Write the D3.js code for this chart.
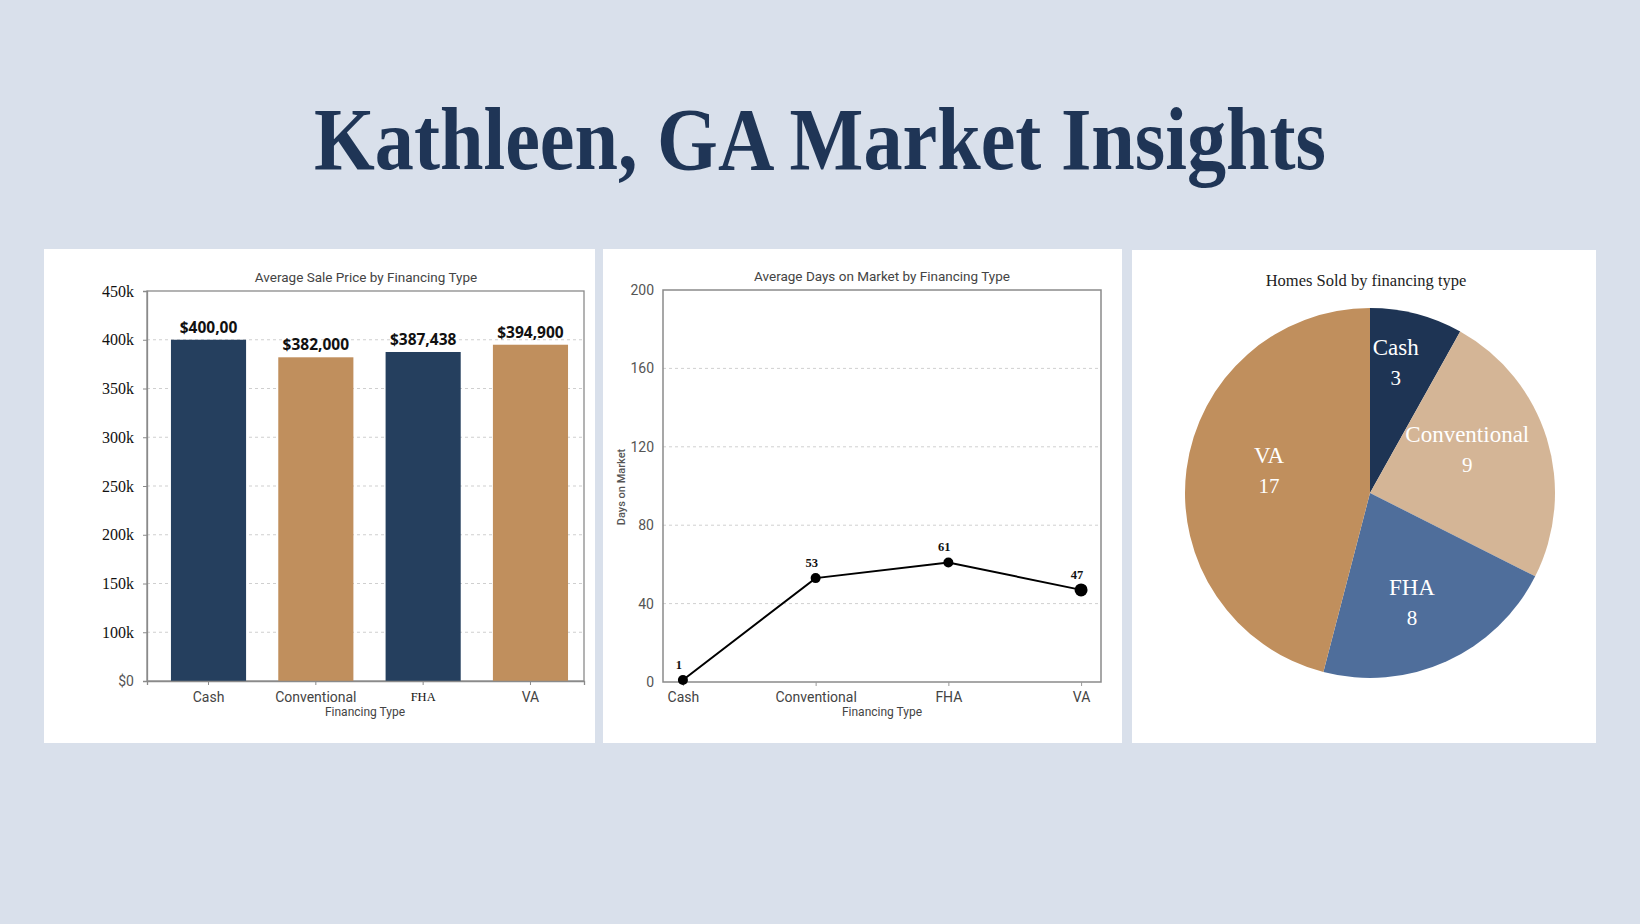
<!DOCTYPE html>
<html>
<head>
<meta charset="utf-8">
<script src="https://cdn.jsdelivr.net/npm/d3@7"></script>
<style>
  body { margin: 0; background: #d9e0eb; }
  svg { display: block; }
</style>
</head>
<body>
<script>
// chart data
var financingTypes = ["Cash", "Conventional", "FHA", "VA"];
var avgPrice = [400000, 382000, 387438, 394900];
var priceLabels = ["$400,00", "$382,000", "$387,438", "$394,900"];
var priceTicks = [50000, 100000, 150000, 200000, 250000, 300000, 350000, 400000, 450000];
var priceTickLabels = ["$0", "100k", "150k", "200k", "250k", "300k", "350k", "400k", "450k"];
var avgDays = [1, 53, 61, 47];
var dayTicks = [0, 40, 80, 120, 160, 200];
var homesSold = [3, 9, 8, 17];

var width = 1640,
    height = 924;

var svg = d3.select("body")
            .append("svg")
            .attr("width", width)
            .attr("height", height);

svg.append("rect")
    .attr("width", width)
    .attr("height", height)
    .attr("fill", "#d9e0eb");

svg.append("text")
    .attr("x", width / 2)
    .attr("y", 169)
    .attr("text-anchor", "middle")
    .attr("textLength", 1012)
    .attr("lengthAdjust", "spacingAndGlyphs")
    .style("font-family", "'Liberation Serif', 'DejaVu Serif', serif")
    .style("font-weight", "bold")
    .style("font-size", "88px")
    .style("fill", "#1f3556")
    .text("Kathleen, GA Market Insights");

// white cards
var panels = [[44, 249, 551, 494], [603, 249, 519, 494], [1132, 250, 464, 493]];
svg.selectAll(".panel")
    .data(panels)
    .enter()
    .append("rect")
    .attr("x", function (d) { return d[0]; })
    .attr("y", function (d) { return d[1]; })
    .attr("width", function (d) { return d[2]; })
    .attr("height", function (d) { return d[3]; })
    .attr("fill", "#ffffff");

var sans = "Roboto, 'Open Sans', sans-serif";
var serif = "'Liberation Serif', 'DejaVu Serif', serif";

// ---------- bar chart ----------
var bx0 = 147, bx1 = 584, by0 = 681, by1 = 291;

var xBand = d3.scaleBand()
              .domain(financingTypes)
              .range([bx0, bx1])
              .paddingInner(0.3)
              .paddingOuter(0.186)
              .align(0.6);

var yPrice = d3.scaleLinear()
               .domain([50000, 450000])
               .range([by0, by1]);

var bar = svg.append("g");

bar.append("g")
    .selectAll("line")
    .data(priceTicks.slice(1, -1))
    .enter()
    .append("line")
    .attr("x1", bx0)
    .attr("x2", bx1)
    .attr("y1", function (d) { return yPrice(d); })
    .attr("y2", function (d) { return yPrice(d); })
    .attr("stroke", "#cfcfcf")
    .attr("stroke-dasharray", "3,3");

bar.append("rect")
    .attr("x", bx0)
    .attr("y", by1)
    .attr("width", bx1 - bx0)
    .attr("height", by0 - by1)
    .attr("fill", "none")
    .attr("stroke", "#8a8a8a")
    .attr("stroke-width", 1.3);

var barColors = ["#253f5e", "#c08f5d", "#253f5e", "#c08f5d"];

bar.append("g")
    .selectAll("rect")
    .data(avgPrice)
    .enter()
    .append("rect")
    .attr("x", function (d, i) { return xBand(financingTypes[i]); })
    .attr("y", function (d) { return yPrice(d); })
    .attr("width", xBand.bandwidth())
    .attr("height", function (d) { return by0 - yPrice(d); })
    .attr("fill", function (d, i) { return barColors[i]; });

bar.append("g")
    .selectAll("text")
    .data(avgPrice)
    .enter()
    .append("text")
    .attr("x", function (d, i) { return xBand(financingTypes[i]) + xBand.bandwidth() / 2; })
    .attr("y", function (d) { return yPrice(d) - 7; })
    .attr("text-anchor", "middle")
    .style("font-family", "'Open Sans', sans-serif")
    .style("font-weight", "bold")
    .style("font-size", "15.5px")
    .style("fill", "#111")
    .text(function (d, i) { return priceLabels[i]; });

var yAxisBar = bar.append("g")
    .attr("transform", "translate(" + bx0 + ",0)")
    .call(d3.axisLeft(yPrice)
            .tickValues(priceTicks)
            .tickFormat(function (d, i) { return priceTickLabels[i]; })
            .tickSize(4)
            .tickPadding(9));
yAxisBar.select(".domain").attr("stroke", "#8a8a8a").attr("stroke-width", 1.3);
yAxisBar.selectAll(".tick line").attr("stroke", "#8a8a8a");
yAxisBar.selectAll(".tick text")
    .style("font-family", function (d, i) { return i === 0 ? sans : serif; })
    .style("font-size", function (d, i) { return i === 0 ? "14px" : "16px"; })
    .style("fill", function (d, i) { return i === 0 ? "#555" : "#111"; });

var xAxisBar = bar.append("g")
    .attr("transform", "translate(0," + by0 + ")")
    .call(d3.axisBottom(xBand).tickSize(4).tickPadding(7));
xAxisBar.select(".domain").attr("stroke", "#8a8a8a").attr("stroke-width", 1.3);
xAxisBar.selectAll(".tick line").attr("stroke", "#8a8a8a");
xAxisBar.selectAll(".tick text")
    .style("font-family", function (d) { return d === "FHA" ? serif : sans; })
    .style("font-size", function (d) { return d === "FHA" ? "12.5px" : "14px"; })
    .style("fill", function (d) { return d === "FHA" ? "#111" : "#444"; });

bar.append("text")
    .attr("x", 366)
    .attr("y", 282)
    .attr("text-anchor", "middle")
    .style("font-family", sans)
    .style("font-size", "13.5px")
    .style("fill", "#444")
    .text("Average Sale Price by Financing Type");

bar.append("text")
    .attr("x", 365)
    .attr("y", 716)
    .attr("text-anchor", "middle")
    .style("font-family", sans)
    .style("font-size", "12px")
    .style("fill", "#444")
    .text("Financing Type");

// ---------- line chart ----------
var lx0 = 663, lx1 = 1101, ly0 = 682, ly1 = 290;

var xPoint = d3.scalePoint()
               .domain(financingTypes)
               .range([lx0, lx1])
               .padding(0.15);

var yDays = d3.scaleLinear()
              .domain([0, 200])
              .range([ly0, ly1]);

var line = svg.append("g");

line.append("g")
    .selectAll("line")
    .data(dayTicks.slice(1, -1))
    .enter()
    .append("line")
    .attr("x1", lx0)
    .attr("x2", lx1)
    .attr("y1", function (d) { return yDays(d); })
    .attr("y2", function (d) { return yDays(d); })
    .attr("stroke", "#d0d0d0")
    .attr("stroke-dasharray", "3,3");

line.append("rect")
    .attr("x", lx0)
    .attr("y", ly1)
    .attr("width", lx1 - lx0)
    .attr("height", ly0 - ly1)
    .attr("fill", "none")
    .attr("stroke", "#8a8a8a")
    .attr("stroke-width", 1.5);

var yAxisLine = line.append("g")
    .attr("transform", "translate(" + lx0 + ",0)")
    .call(d3.axisLeft(yDays).tickValues(dayTicks).tickSize(0).tickPadding(9));
yAxisLine.select(".domain").remove();
yAxisLine.selectAll(".tick text")
    .style("font-family", sans)
    .style("font-size", "14px")
    .style("fill", "#555");

var xAxisLine = line.append("g")
    .attr("transform", "translate(0," + ly0 + ")")
    .call(d3.axisBottom(xPoint).tickSize(4).tickPadding(6));
xAxisLine.select(".domain").remove();
xAxisLine.selectAll(".tick line").attr("stroke", "#999");
xAxisLine.selectAll(".tick text")
    .style("font-family", sans)
    .style("font-size", "14px")
    .style("fill", "#444");

var daysLine = d3.line()
                 .x(function (d, i) { return xPoint(financingTypes[i]); })
                 .y(function (d) { return yDays(d); });

line.append("path")
    .datum(avgDays)
    .attr("d", daysLine)
    .attr("fill", "none")
    .attr("stroke", "#000")
    .attr("stroke-width", 2);

line.append("g")
    .selectAll("circle")
    .data(avgDays)
    .enter()
    .append("circle")
    .attr("cx", function (d, i) { return xPoint(financingTypes[i]); })
    .attr("cy", function (d) { return yDays(d); })
    .attr("r", function (d, i) { return i === avgDays.length - 1 ? 6.5 : 5; })
    .style("fill", "#000");

line.append("g")
    .selectAll("text")
    .data(avgDays)
    .enter()
    .append("text")
    .attr("x", function (d, i) { return xPoint(financingTypes[i]) - 4; })
    .attr("y", function (d) { return yDays(d) - 11; })
    .attr("text-anchor", "middle")
    .style("font-family", serif)
    .style("font-weight", "bold")
    .style("font-size", "12.5px")
    .style("fill", "#111")
    .text(function (d) { return d; });

line.append("text")
    .attr("x", 882)
    .attr("y", 281)
    .attr("text-anchor", "middle")
    .style("font-family", sans)
    .style("font-size", "13.5px")
    .style("fill", "#444")
    .text("Average Days on Market by Financing Type");

line.append("text")
    .attr("x", 882)
    .attr("y", 716)
    .attr("text-anchor", "middle")
    .style("font-family", sans)
    .style("font-size", "12px")
    .style("fill", "#444")
    .text("Financing Type");

line.append("text")
    .attr("transform", "translate(625,487) rotate(-90)")
    .attr("text-anchor", "middle")
    .style("font-family", sans)
    .style("font-weight", "500")
    .style("font-size", "11px")
    .style("fill", "#555")
    .text("Days on Market");

// ---------- pie chart ----------
var cx = 1370, cy = 493, radius = 185;
var pieColors = ["#1e3454", "#d4b596", "#4f6e9b", "#c08f5d"];

var pie = d3.pie().sort(null).value(function (d) { return d; });
var arc = d3.arc().innerRadius(0).outerRadius(radius);

// labels sit on an ellipse inside the pie (narrower horizontally)
function labelPos(d) {
    var a = (d.startAngle + d.endAngle) / 2;
    return [Math.sin(a) * radius * 0.55, -Math.cos(a) * radius * 0.69];
}

var pieG = svg.append("g")
              .attr("transform", "translate(" + cx + "," + cy + ")");

var slices = pieG.selectAll(".slice")
                 .data(pie(homesSold))
                 .enter()
                 .append("g");

slices.append("path")
    .attr("d", arc)
    .attr("fill", function (d, i) { return pieColors[i]; });

var pieText = slices.append("text")
    .attr("transform", function (d) {
        var c = labelPos(d);
        return "translate(" + c[0] + "," + c[1] + ")";
    })
    .attr("text-anchor", "middle")
    .style("font-family", serif)
    .style("fill", "#ffffff");

pieText.append("tspan")
    .attr("x", 0)
    .attr("y", -14)
    .style("font-size", "23px")
    .text(function (d, i) { return financingTypes[i]; });

pieText.append("tspan")
    .attr("x", 0)
    .attr("y", 16)
    .style("font-size", "21px")
    .text(function (d) { return d.data; });

svg.append("text")
    .attr("x", 1366)
    .attr("y", 286)
    .attr("text-anchor", "middle")
    .style("font-family", serif)
    .style("font-size", "16.5px")
    .style("fill", "#222")
    .text("Homes Sold by financing type");
</script>
</body>
</html>
